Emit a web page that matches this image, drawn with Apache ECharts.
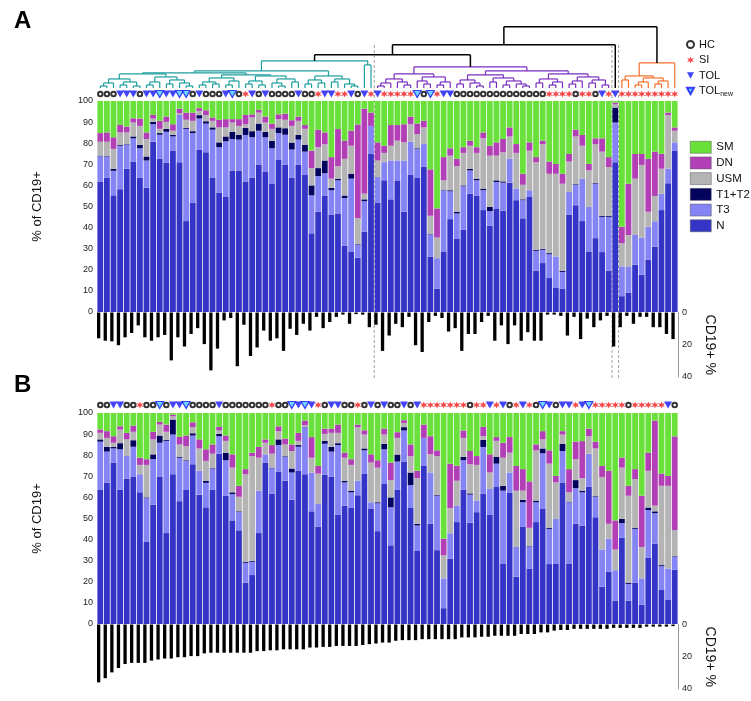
<!DOCTYPE html>
<html><head><meta charset="utf-8">
<script src="https://cdn.jsdelivr.net/npm/echarts@6/dist/echarts.min.js"></script>
<style>html,body{margin:0;padding:0;background:#fff}#c{width:751px;height:701px}</style>
</head><body><div id="c"></div>
<script>
// ---------- DATA (panel A, clustered order) ----------
// group codes: H = HC, S = SI, T = TOL, N = TOL_new
const groupsA = ['H','H','H','T','T','T','H','T','T','N','T','T','N','N','H','T','H','H','H','T','N','H','S','T','H','T','H','H','H','H','T','H','H','S','T','T','S','S','T','H','T','S',
 'T','S','S','S','S','S','N','H','N','S','T','T','H','H','H','H','H','H','H','H','H','H','H','H','H','H','S','S','S','S','H','S','S','H','T','S',
 'T','S','S','S','S','S','S','S','S','S'];
const nA   = [61.9,63.6,55.3,58.2,67.9,71.3,63.6,58.9,80.7,72.6,70.7,76.5,71.0,43.1,51.7,77.0,75.7,63.8,56.6,54.5,67.1,67.1,61.8,63.8,69.9,66.3,60.7,72.1,69.7,63.8,69.7,64.9,37.3,47.5,55.0,46.2,46.7,31.5,28.7,25.7,38.1,74.9,
 51.9,62.4,53.4,62.1,47.5,65.0,63.5,69.0,26.3,11.1,28.7,44.0,34.6,38.9,56.1,55.0,48.3,40.8,49.1,48.0,61.3,53.0,44.4,54.5,19.6,23.2,16.1,11.4,11.1,46.2,50.6,43.1,28.7,35.0,28.4,19.6,
 71.0,7.5,9.1,22.4,17.7,24.8,31.0,48.3,61.0,76.5];
const t3A  = [11.9,9.9,11.6,20.6,11.3,11.0,14.0,12.9,8.3,11.4,14.7,6.7,22.3,43.7,33.1,14.7,13.6,22.6,21.5,26.4,14.9,14.6,22.1,19.0,16.0,16.5,16.9,12.7,14.3,13.2,12.0,11.1,18.0,16.9,10.8,11.5,15.7,22.5,34.5,6.1,14.4,13.3,
 12.1,8.6,18.4,9.7,24.3,15.7,13.8,10.6,10.5,14.4,29.0,13.2,12.1,20.7,11.0,7.4,9.4,7.0,12.5,13.3,11.3,5.5,8.6,3.2,9.4,6.3,11.3,14.9,7.9,10.7,9.7,20.1,21.1,25.8,16.7,25.5,
 18.8,14.1,12.5,14.1,17.6,15.6,12.0,7.7,6.9,3.9];
const t12A = [0.3,0.3,1.0,0.5,0.3,0.9,1.6,1.9,1.1,0.8,1.4,0.7,0.2,0.5,0.9,1.6,1.1,1.1,2.3,2.3,3.4,2.2,3.4,2.9,3.4,2.6,3.6,2.7,3.1,3.3,2.2,3.3,4.7,3.8,6.0,1.1,0.8,1.2,2.3,0.3,0.9,0,
 0,0,0,0,0,0,0.3,0,0.3,0,0.3,0.5,0.8,0.4,0.8,0.8,0.8,2.0,0.8,0.6,0,0,0.4,0,0.5,0.4,0.5,0,0.6,0,0.3,0,0,0.3,0.5,0.5,
 7.1,0,0,0,0,0,0,0,0,0];
const usmA = [6.6,6.9,9.4,5.8,5.6,6.6,9.0,8.3,1.6,2.0,3.3,2.0,0.7,3.8,4.9,2.0,2.9,3.1,7.1,4.3,4.4,4.3,1.7,6.5,5.2,4.4,5.6,3.9,4.0,7.9,6.7,7.5,8.2,9.9,7.7,4.4,5.9,17.4,13.3,12.4,2.7,0,
 7.8,4.4,7.0,9.4,8.6,8.3,6.7,7.9,8.5,9.8,4.4,16.4,21.6,15.4,10.9,12.2,23.8,24.3,11.7,13.8,10.6,16.9,6.9,18.8,41.5,49.7,37.6,39.2,41.2,14.4,22.6,15.6,17.3,18.5,30.4,23.1,
 1.5,11.0,14.9,26.7,34.4,7.1,12.0,11.9,25.4,5.5];
const dnA  = [4.1,4.4,5.5,3.6,2.8,2.0,3.5,3.1,1.7,3.8,2.5,3.1,2.2,3.4,3.9,1.3,2.3,1.6,3.6,3.9,1.6,3.2,4.4,1.5,1.3,2.8,2.5,2.3,2.9,2.7,2.0,1.8,8.3,8.3,5.6,10.2,17.6,8.6,7.1,44.4,40.3,6.3,
 8.6,3.4,9.8,7.4,8.6,3.6,5.0,3.1,22.0,13.8,11.0,3.5,3.5,2.7,2.4,2.7,2.8,4.7,6.3,6.3,4.3,4.2,5.2,3.9,2.4,1.6,5.8,4.7,4.7,3.6,3.2,5.1,3.1,2.7,6.3,4.7,
 0.8,7.8,24.3,11.7,5.2,25.1,21.0,7.1,1.2,1.6];
const smA  = [15.2,14.9,17.2,11.3,12.1,8.2,8.3,14.9,6.6,9.4,7.4,11.0,3.6,5.5,5.5,3.4,4.4,7.8,8.9,8.6,8.6,8.6,6.6,6.3,4.2,7.4,10.7,6.3,6.0,9.1,7.4,11.4,23.5,13.6,14.9,26.6,13.3,18.8,14.1,11.1,3.6,5.5,
 19.6,21.2,11.4,11.4,11.0,7.4,10.7,9.4,32.4,50.9,26.6,22.4,27.4,21.9,18.8,21.9,14.9,21.2,19.6,18.0,12.5,20.4,34.5,19.6,26.6,18.8,28.7,29.8,34.5,25.1,13.6,16.1,29.8,17.7,17.7,26.6,
 0.8,59.6,39.2,25.1,25.1,27.4,24.0,25.0,5.5,12.5];
const cd19A = [16.0,17.5,17.9,20.3,15.4,12.7,8.0,15.4,17.5,15.4,13.9,29.7,15.4,21.1,13.3,9.7,19.6,35.9,22.4,4.9,3.4,33.3,7.6,27.0,21.7,11.2,17.5,16.0,23.8,10.1,13.9,7.0,11.2,2.7,9.7,5.9,2.7,1.3,7.0,1.0,1.3,9.1,
 7.6,23.8,14.3,7.0,9.1,2.7,20.3,24.5,5.9,2.1,3.4,11.8,9.7,23.8,13.3,13.3,5.9,2.1,17.5,8.0,19.6,8.0,17.5,12.2,17.5,17.5,1.3,1.3,2.1,14.3,2.7,16.5,3.8,9.1,4.9,2.1,
 21.1,9.1,2.1,7.0,2.7,2.7,9.1,9.1,13.3,16.5];
// panel B symbol row (samples ordered by CD19+ %)
const groupsB = ['H','H','T','T','H','H','S','H','H','N','H','T','T','N','H','H','H','H','T','H','H','H','H','H','H','H','S','H','H','N','T','N','T','S','H','T','T','H','H','S','H','T','H','T',
 'H','H','T','H','T','S','S','S','S','S','S','S','H','S','S','T','S','T','H','S','T','S','H','N','T','H','T','T','S','T','N','S','S','S','S','S','H','S','S','S','S','S','T','H'];
// dendrogram: [height, left, right]; leaves are sample indices
const tealTree = [27, [17, [15,
   [14, [9, [5,[2,0,1],2], [6,[3,3,4],[2,5,6]]], [11, [6,[3,7,8],9], [8,[4,10,11],[5,12,[2,13,14]]]]],
   [13, [10, [6,[3,15,16],[4,17,18]], [7,[3,19,20],21]], [12, [7,[4,22,23],[3,24,25]], [9,[5,26,[2,27,28]],[6,29,30]]]]],
   [12, [8,[4,31,32],[5,33,34]], [9,[6,35,36],[4,37,[2,38,39]]]]],
 [23, 40, 41]];
const purpleTree = [21,
 [14, [9,[5,[2,42,43],44],[6,45,[3,46,47]]], [11,[7,48,[4,49,50]],[6,[3,51,52],53]]],
 [17, [13, [8,[4,54,55],[5,56,[2,57,58]]], [10,[6,59,60],[7,[3,61,62],[4,63,[2,64,65]]]]],
      [14, [9,[5,66,67],[6,[3,68,69],70]], [11,[7,[4,71,72],73],[8,[5,74,75],[3,76,77]]]]]];
const orangeTree = [25, [12, [8,79,80], [10,[6,[3,81,82],83],[7,[4,84,85],86]]], 87];
const topTree = [61, [43, [33, 'teal', 'purple'], 78], 'orange'];

const subsetNames = ['SM','DN','USM','T1+T2','T3','N'];
const groupNames = {H:'HC', S:'SI', T:'TOL', N:'TOL_new'};

// ---------- BUILD ----------
const n = nA.length;
const cats = nA.map((_, i) => String(i));
const colors = {N:'#3434c6', T3:'#8484f4', T12:'#03035e', USM:'#b4b4b4', DN:'#b23fb6', SM:'#6ae03a'};
const colorList = ['#1e9e9e','#7a2dc0','#f2702a','#000000'];
const colorIdx = {teal:0, purple:1, orange:2, top:3};

const segs = [];
const clusterInfo = {};
function layout(node, ci) {
  if (typeof node === 'number') return {x: node, h: 0, min: node, max: node};
  if (typeof node === 'string') return clusterInfo[node];
  const [h, a, b] = node;
  const A = layout(a, ci), B = layout(b, ci);
  segs.push([A.x, h, B.x, h, ci], [A.x, A.h, A.x, h, ci], [B.x, B.h, B.x, h, ci]);
  return {x: (A.x + B.x) / 2, h: h, min: Math.min(A.min, B.min), max: Math.max(A.max, B.max)};
}
clusterInfo.teal = layout(tealTree, colorIdx.teal);
clusterInfo.purple = layout(purpleTree, colorIdx.purple);
clusterInfo.orange = layout(orangeTree, colorIdx.orange);
layout(topTree, colorIdx.top);
const boundaries = [[clusterInfo.teal.max + 0.5], [clusterInfo.purple.max + 0.5], [clusterInfo.orange.min - 0.5]];

// panel B: the same samples ordered by CD19+ %
const order = cats.map((_, i) => i).sort((a, b) => cd19A[b] - cd19A[a]);
const pick = arr => order.map(i => arr[i]);
const nB = pick(nA), t3B = pick(t3A), t12B = pick(t12A), usmB = pick(usmA), dnB = pick(dnA), smB = pick(smA), cd19B = pick(cd19A);

const FONT = 'Liberation Sans';
const L = 97, R = 73;
const grids = [
  {left:L, right:R, top:26.7, height:61.3},   // 0 dendrogram
  {left:L, right:R, top:90, height:8},        // 1 symbols A
  {left:L, right:R, top:101, height:211},     // 2 bars A
  {left:L, right:R, top:312.5, height:64.5},  // 3 CD19 A
  {left:L, right:R, top:45, height:333},      // 4 dashed overlay
  {left:L, right:R, top:401, height:8},       // 5 symbols B
  {left:L, right:R, top:413, height:211},     // 6 bars B
  {left:L, right:R, top:624.5, height:64.5}   // 7 CD19 B
];
const hiddenVal = (gi, min, max) => ({type:'value', gridIndex:gi, min, max, show:false});
const hiddenCat = gi => ({type:'category', gridIndex:gi, data:cats, show:false});
const pctAxis = gi => ({type:'value', gridIndex:gi, min:0, max:100, interval:10,
  axisLine:{show:false}, axisTick:{show:false}, splitLine:{show:false},
  axisLabel:{fontSize:9, color:'#222', margin:4, fontFamily:FONT},
  name:'% of CD19+', nameLocation:'middle', nameGap:53, nameRotate:90,
  nameTextStyle:{fontSize:13, color:'#111', fontFamily:FONT}});
const cdAxis = gi => ({type:'value', gridIndex:gi, min:0, max:40, interval:20, inverse:true, position:'right',
  axisLine:{show:true, lineStyle:{color:'#9a9a9a', width:1}}, axisTick:{show:false}, splitLine:{show:false},
  axisLabel:{fontSize:9, color:'#222', margin:4, fontFamily:FONT},
  name:'CD19+ %', nameLocation:'middle', nameGap:24, nameRotate:-90,
  nameTextStyle:{fontSize:14, color:'#111', fontFamily:FONT}});

const triPath = 'path://M0,0L10,0L5,9Z';
const starPath = 'path://M5,0L6.3,3.2L9.8,2.3L7.5,5L9.8,7.7L6.3,6.8L5,10L3.7,6.8L0.2,7.7L2.5,5L0.2,2.3L3.7,3.2Z';
const symStyle = {
  H:{symbol:'emptyCircle', symbolSize:4.5, itemStyle:{color:'#000', borderColor:'#000', borderWidth:1.1}},
  S:{symbol:starPath, symbolSize:7, itemStyle:{color:'#f01a1a'}},
  T:{symbol:triPath, symbolSize:[8,7], itemStyle:{color:'#1414f5'}},
  N:{symbol:triPath, symbolSize:[8,7], itemStyle:{color:'#4cc8ff', borderColor:'#1414f5', borderWidth:1.2}}
};
function groupSeries(groups, xi) {
  return ['H','S','T','N'].map(code => Object.assign({
    type:'scatter', name:groupNames[code], xAxisIndex:xi, yAxisIndex:xi,
    data: groups.map((g, i) => g === code ? [i, 0] : null).filter(Boolean),
    silent:true
  }, symStyle[code]));
}
function stackSeries(vals, xi, stackId) {
  const defs = [['N', vals.n, colors.N], ['T3', vals.t3, colors.T3], ['T1+T2', vals.t12, colors.T12],
                ['USM', vals.usm, colors.USM], ['DN', vals.dn, colors.DN], ['SM', vals.sm, colors.SM]];
  return defs.map(([name, data, color]) => ({
    type:'bar', name, stack:stackId, xAxisIndex:xi, yAxisIndex:xi, data,
    barCategoryGap:'12%', itemStyle:{color}, silent:true
  }));
}
function cdSeries(data, xi) {
  return [
    {type:'bar', name:'CD19', xAxisIndex:xi, yAxisIndex:xi, data, barGap:'0%', barCategoryGap:'0%', itemStyle:{color:'#000'}, silent:true},
    {type:'bar', name:'pad', xAxisIndex:xi, yAxisIndex:xi, data:data.map(() => '-'), barGap:'0%', barCategoryGap:'0%', silent:true}
  ];
}

const option = {
  animation:false,
  backgroundColor:'#fff',
  title:[
    {text:'A', left:9, top:4, textStyle:{fontSize:24, fontWeight:'bold', color:'#000', fontFamily:FONT}},
    {text:'B', left:9, top:368, textStyle:{fontSize:24, fontWeight:'bold', color:'#000', fontFamily:FONT}}
  ],
  legend:[
    {orient:'vertical', left:681, top:34, itemWidth:7, itemHeight:7, itemGap:4.5,
     textStyle:{fontSize:11, color:'#111', fontFamily:FONT, lineHeight:11,
       rich:{sub:{fontSize:7, color:'#111', fontFamily:FONT, padding:[7,0,0,0]}}},
     formatter: name => name === 'TOL_new' ? 'TOL{sub|new}' : name,
     selectedMode:false,
     data:['HC','SI','TOL','TOL_new']},
    {orient:'vertical', left:685, top:136, itemWidth:21, itemHeight:12, itemGap:3.2, itemStyle:{borderColor:'#555', borderWidth:0.5},
     textStyle:{fontSize:11.5, color:'#111', fontFamily:FONT},
     selectedMode:false, icon:'rect',
     data:subsetNames}
  ],
  grid:grids,
  xAxis:[hiddenVal(0,-0.5,n-0.5), hiddenCat(1), hiddenCat(2), hiddenCat(3), hiddenVal(4,-0.5,n-0.5), hiddenCat(5), hiddenCat(6), hiddenCat(7)],
  yAxis:[hiddenVal(0,0,61), hiddenVal(1,-1,1), pctAxis(2), cdAxis(3), hiddenVal(4,0,1), hiddenVal(5,-1,1), pctAxis(6), cdAxis(7)],
  series:[
    {type:'custom', name:'dendrogram', xAxisIndex:0, yAxisIndex:0, data:segs, clip:false, silent:true,
     encode:{x:[0,2], y:[1,3]},
     renderItem:(params, api) => {
       const p1 = api.coord([api.value(0), api.value(1)]);
       const p2 = api.coord([api.value(2), api.value(3)]);
       return {type:'line', shape:{x1:p1[0], y1:p1[1], x2:p2[0], y2:p2[1]},
               style:{stroke:colorList[api.value(4)], lineWidth:api.value(4) === 3 ? 1.5 : 1.2}};
     }},
    {type:'custom', name:'clusters', xAxisIndex:4, yAxisIndex:4, data:boundaries, clip:false, silent:true,
     encode:{x:0},
     renderItem:(params, api) => {
       const top = api.coord([api.value(0), 1]);
       const bot = api.coord([api.value(0), 0]);
       return {type:'line', shape:{x1:top[0], y1:top[1], x2:bot[0], y2:bot[1]},
               style:{stroke:'#8a8a8a', lineWidth:0.8, lineDash:[3,2]}};
     }},
    ...groupSeries(groupsA, 1),
    ...stackSeries({n:nA, t3:t3A, t12:t12A, usm:usmA, dn:dnA, sm:smA}, 2, 'A'),
    ...cdSeries(cd19A, 3),
    ...groupSeries(groupsB, 5),
    ...stackSeries({n:nB, t3:t3B, t12:t12B, usm:usmB, dn:dnB, sm:smB}, 6, 'B'),
    ...cdSeries(cd19B, 7)
  ]
};
const chart = echarts.init(document.getElementById('c'), null, {renderer:'canvas'});
chart.setOption(option);
</script></body></html>
